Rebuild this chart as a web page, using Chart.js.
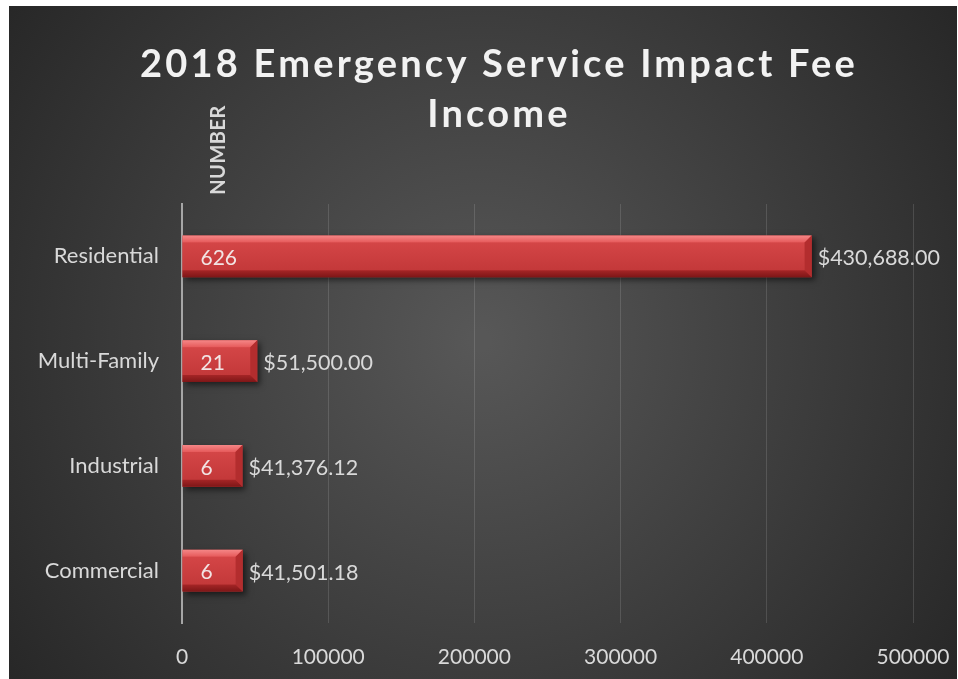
<!DOCTYPE html>
<html>
<head>
<meta charset="utf-8">
<script src="https://cdn.jsdelivr.net/npm/chart.js@4.4.1/dist/chart.umd.min.js"></script>
<style>
  html, body { margin: 0; padding: 0; background: #ffffff; }
  #wrap { width: 958px; height: 679px; position: relative; }
</style>
</head>
<body>
<div id="wrap"><canvas id="c" width="958" height="679"></canvas></div>
<script>
const categories = ['Residential', 'Multi-Family', 'Industrial', 'Commercial'];
const amounts = [430688.00, 51500.00, 41376.12, 41501.18];
const counts = [626, 21, 6, 6];
const xTickValues = [0, 100000, 200000, 300000, 400000, 500000];
const titleLines = ['2018 Emergency Service Impact Fee', 'Income'];
const axisTitle = 'NUMBER';

const FONT = 'Lato, "Open Sans", sans-serif';

function fmtMoney(v) {
  return '$' + v.toLocaleString('en-US', { minimumFractionDigits: 2, maximumFractionDigits: 2 });
}

const bgPlugin = {
  id: 'bg',
  beforeDraw(chart) {
    const ctx = chart.ctx;
    const W = chart.width, H = chart.height;
    ctx.save();
    ctx.fillStyle = '#ffffff';
    ctx.fillRect(0, 0, W, H);
    const g = ctx.createRadialGradient(480, 340, 10, 480, 340, 620);
    g.addColorStop(0, '#575757');
    g.addColorStop(1, '#242424');
    ctx.fillStyle = g;
    ctx.fillRect(9, 6, W - 10, H - 6);
    ctx.restore();
  }
};

const decoPlugin = {
  id: 'deco',
  beforeDatasetsDraw(chart) {
    const ctx = chart.ctx;
    ctx.save();
    ctx.shadowColor = 'rgba(0,0,0,0.55)';
    ctx.shadowBlur = 6;
    ctx.shadowOffsetX = 3;
    ctx.shadowOffsetY = 3;
  },
  afterDatasetsDraw(chart) {
    const ctx = chart.ctx;
    ctx.restore();
    const meta = chart.getDatasetMeta(0);
    meta.data.forEach((el, i) => {
      const p = el.getProps(['x', 'y', 'base', 'height'], true);
      const left = Math.min(p.base, p.x), right = Math.max(p.base, p.x);
      const top = p.y - p.height / 2, bottom = p.y + p.height / 2;
      const b = 7;
      ctx.save();
      const g = ctx.createLinearGradient(0, top, 0, bottom);
      g.addColorStop(0, '#d8494a');
      g.addColorStop(1, '#bf3536');
      ctx.fillStyle = g;
      ctx.fillRect(left, top + b, right - left - b, bottom - top - 2 * b);
      ctx.beginPath();
      ctx.moveTo(left, top); ctx.lineTo(right, top);
      ctx.lineTo(right - b, top + b); ctx.lineTo(left, top + b); ctx.closePath();
      const gt = ctx.createLinearGradient(0, top, 0, top + b);
      gt.addColorStop(0, '#f58787');
      gt.addColorStop(1, '#e65a5b');
      ctx.fillStyle = gt; ctx.fill();
      ctx.beginPath();
      ctx.moveTo(right, top); ctx.lineTo(right, bottom);
      ctx.lineTo(right - b, bottom - b); ctx.lineTo(right - b, top + b); ctx.closePath();
      ctx.fillStyle = '#b32d2e'; ctx.fill();
      ctx.beginPath();
      ctx.moveTo(left, bottom); ctx.lineTo(right, bottom);
      ctx.lineTo(right - b, bottom - b); ctx.lineTo(left, bottom - b); ctx.closePath();
      const gb = ctx.createLinearGradient(0, bottom - b, 0, bottom);
      gb.addColorStop(0, '#a52526');
      gb.addColorStop(1, '#7d1617');
      ctx.fillStyle = gb; ctx.fill();
      ctx.restore();

      ctx.save();
      ctx.textBaseline = 'middle';
      ctx.textAlign = 'left';
      ctx.font = '21px ' + FONT;
      ctx.fillStyle = '#f2e4e4';
      ctx.fillText(String(counts[i]), left + 18, p.y + 2);
      ctx.font = '21.5px ' + FONT;
      ctx.fillStyle = '#d9d9d9';
      ctx.fillText(fmtMoney(amounts[i]), right + 6, p.y + 2);
      ctx.restore();
    });
  },
  afterDraw(chart) {
    const ctx = chart.ctx;
    ctx.save();
    ctx.fillStyle = '#f2f2f2';
    ctx.textAlign = 'center';
    ctx.textBaseline = 'alphabetic';
    ctx.font = 'bold 38px ' + FONT;
    try { ctx.letterSpacing = '3.2px'; } catch (e) {}
    ctx.fillText(titleLines[0], 499, 77);
    ctx.fillText(titleLines[1], 499, 127);
    ctx.restore();

    ctx.save();
    ctx.fillStyle = '#d9d9d9';
    ctx.font = 'bold 20px ' + FONT;
    try { ctx.letterSpacing = '0.5px'; } catch (e) {}
    ctx.translate(219, 150);
    ctx.rotate(-Math.PI / 2);
    ctx.textAlign = 'center';
    ctx.textBaseline = 'middle';
    ctx.fillText(axisTitle, 0, 0);
    ctx.restore();
  }
};

new Chart(document.getElementById('c'), {
  type: 'bar',
  data: {
    labels: categories,
    datasets: [{
      label: 'Amount',
      data: amounts,
      backgroundColor: '#c83c3d',
      borderWidth: 0,
      barPercentage: 0.4,
      categoryPercentage: 1.0
    }]
  },
  options: {
    indexAxis: 'y',
    responsive: false,
    animation: false,
    devicePixelRatio: 1,
    layout: { padding: { top: 204, right: 45, bottom: 0, left: 0 } },
    plugins: {
      legend: { display: false },
      tooltip: { enabled: false },
      title: { display: false }
    },
    scales: {
      x: {
        min: 0,
        max: 500000,
        afterBuildTicks(scale) { scale.ticks = xTickValues.map(v => ({ value: v })); },
        ticks: {
          color: '#d9d9d9',
          font: { family: FONT, size: 21 },
          padding: 22,
          callback: v => String(v)
        },
        grid: { color: 'rgba(255,255,255,0.13)', lineWidth: 1, drawTicks: false },
        border: { display: false },
        afterFit(s) { s.height = 56; s.paddingLeft = 0; s.paddingRight = 0; }
      },
      y: {
        ticks: {
          color: '#d9d9d9',
          font: { family: FONT, size: 22 },
          padding: 23
        },
        grid: { display: false, drawTicks: false },
        border: { display: true, color: '#a6a6a6', width: 2 },
        afterFit(s) { s.width = 182; s.paddingTop = 0; s.paddingBottom = 0; }
      }
    }
  },
  plugins: [bgPlugin, decoPlugin]
});
</script>
</body>
</html>
